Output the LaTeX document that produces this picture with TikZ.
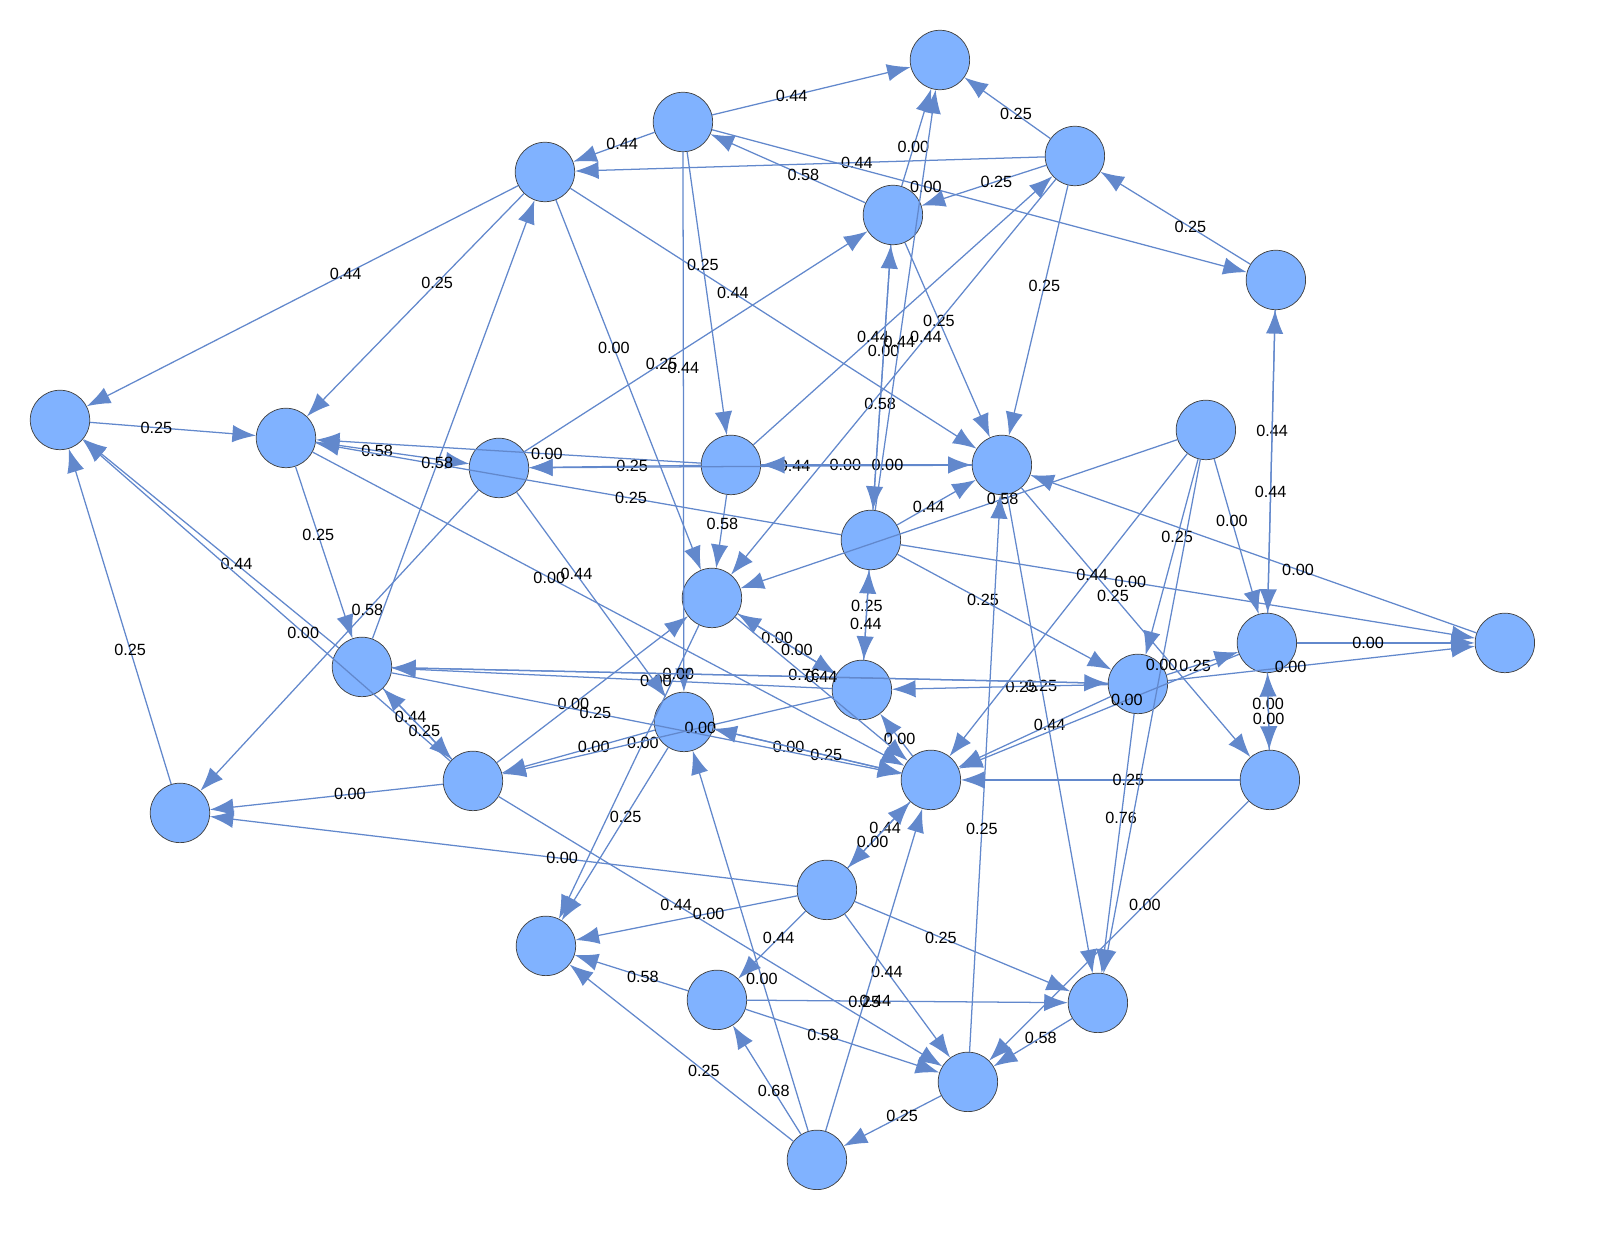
\documentclass[tikz,border=0pt]{standalone}
\usepackage{fontspec}
\setmainfont{Liberation Sans}
\usetikzlibrary{arrows.meta}
\definecolor{vertfill}{RGB}{128,178,255}
\definecolor{edgeblue}{RGB}{98,136,204}
\tikzset{
  vert/.style={circle, draw=black!75, fill=vertfill, minimum size=1.16cm, inner sep=0pt},
  edge/.style={draw=edgeblue, line width=0.7pt, -{Latex[length=4.6mm,width=3.4mm]}},
  lbl/.style={font=\fontsize{9}{10}\selectfont, inner sep=1pt, pos=0.4}
}
\begin{document}
\begin{tikzpicture}[x=0.02cm, y=-0.02cm]
  \useasboundingbox (0,0) rectangle (1567,1220);
  % vertices
  \foreach \n/\px/\py in {1/940/60, 2/683/122, 3/545/172, 4/1075/156, 5/893/215,
      6/1276/280, 7/60/420, 8/286/438, 9/499/468, 10/731/465, 11/1002/465,
      12/1206/430, 13/871/540, 14/712/598, 15/1505/643, 16/1267/643,
      17/362/667, 18/862/690, 19/1138/684, 20/684/722, 21/473/781,
      22/931/780, 23/1270/780, 24/180/813, 25/827/890, 26/546/946,
      27/717/1000, 28/1098/1003, 29/968/1082, 30/817/1160}
    \node[vert] (n\n) at (\px*0.975,\py*0.975) {};
  % connectors
  \foreach \a/\b/\l in {2/1/0.44, 2/3/0.44, 4/3/0.44, 4/1/0.25, 4/5/0.25, 5/2/0.58,
      2/6/0.00, 5/1/0.00, 3/7/0.44, 3/8/0.25, 3/14/0.00, 3/11/0.44, 2/20/0.44,
      2/10/0.25, 7/8/0.25, 17/7/0.44, 21/7/0.00, 24/7/0.25, 8/9/0.58,
      10/8/0.00, 13/8/0.25, 8/17/0.25, 8/22/0.00, 10/9/0.25, 11/9/0.44,
      9/24/0.58, 17/3/0.58, 9/5/0.25, 10/4/0.44, 10/11/0.00, 11/10/0.00,
      13/11/0.44, 12/14/0.58, 4/11/0.25, 5/11/0.25, 5/13/0.00, 13/5/0.58,
      13/1/0.44, 4/14/0.44, 6/4/0.25, 6/16/0.44, 16/6/0.44, 12/16/0.00,
      16/15/0.00, 19/15/0.00, 13/15/0.00, 15/11/0.00, 16/23/0.00, 23/16/0.00,
      12/19/0.25, 19/16/0.25, 11/23/0.25, 11/28/0.25, 13/19/0.25, 13/18/0.25,
      18/13/0.44, 14/18/0.00, 18/14/0.00, 10/14/0.58, 14/26/0.00, 20/26/0.25,
      17/21/0.44, 21/17/0.25, 18/17/0.00, 19/18/0.25, 22/18/0.00, 19/22/0.44,
      16/22/0.00, 23/22/0.25, 12/22/0.44, 21/24/0.00, 21/29/0.44, 25/24/0.00,
      25/26/0.00, 25/27/0.44, 25/29/0.44, 25/28/0.25, 22/25/0.44, 25/22/0.00,
      27/26/0.58, 27/28/0.44, 27/29/0.58, 30/27/0.68, 30/26/0.25, 29/30/0.25,
      28/29/0.58, 23/29/0.00, 29/11/0.25, 30/20/0.00, 30/22/0.25, 19/28/0.76,
      12/28/0.00, 20/21/0.00, 21/14/0.00, 18/21/0.00, 14/22/0.76, 20/22/0.00,
      22/20/0.25, 17/22/0.25, 17/19/0.00, 19/17/0.44, 9/20/0.44}
    \draw[edge] (n\a) -- node[lbl] {\l} (n\b);
\end{tikzpicture}
\end{document}
